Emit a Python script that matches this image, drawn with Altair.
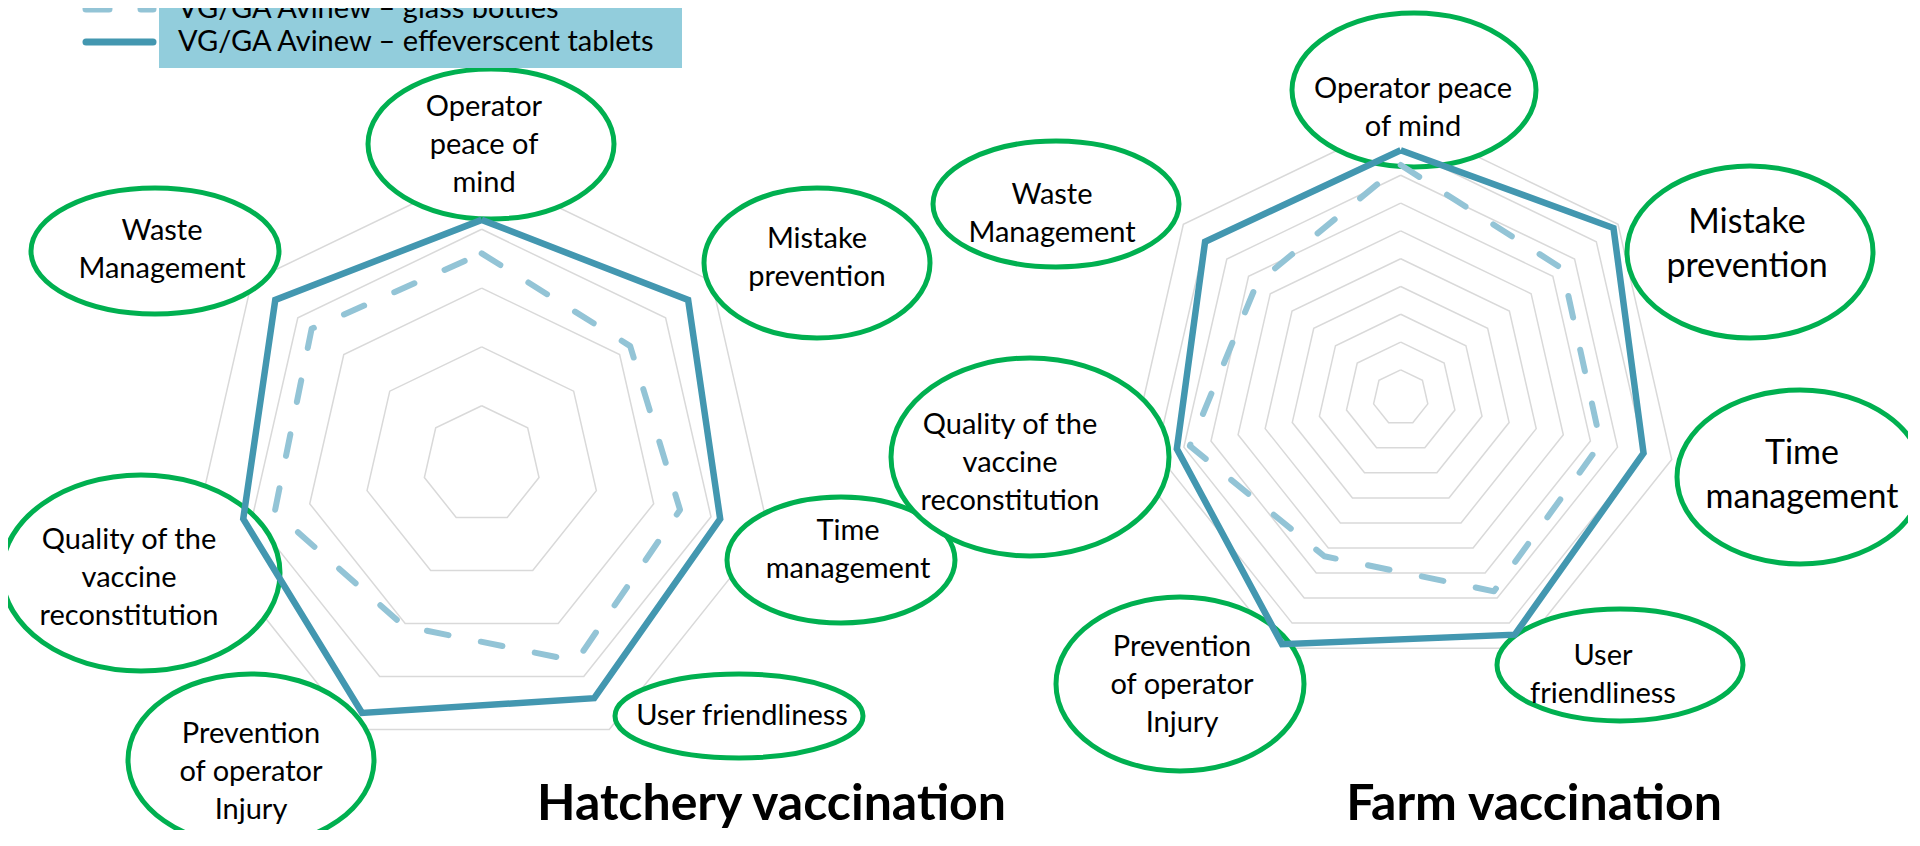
import altair as alt
import pandas as pd

# ---------------- data ----------------
categories = ["Operator peace of mind", "Mistake prevention", "Time management",
              "User friendliness", "Prevention of operator Injury",
              "Quality of the vaccine reconstitution", "Waste Management"]
series_names = ["VG/GA Avinew – glass bottles", "VG/GA Avinew – effeverscent tablets"]

hatchery_bottles = [3.59, 3.23, 3.46, 3.71, 3.05, 3.61, 3.70]
hatchery_tablets = [4.16, 4.49, 4.16, 4.41, 4.69, 4.16, 4.49]
farm_bottles = [8.37, 7.44, 7.38, 7.73, 6.33, 7.78, 6.61]
farm_tablets = [8.90, 9.79, 8.96, 9.46, 9.84, 8.26, 9.00]

hatchery_rings = [1, 2, 3, 4, 5]
farm_rings = [1, 2, 3, 4, 5, 6, 7, 8, 9, 10]

chart_titles = ["Hatchery vaccination", "Farm vaccination"]
hatchery_labels = ["Operator\npeace of\nmind", "Mistake\nprevention", "Time\nmanagement",
                   "User friendliness", "Prevention\nof operator\nInjury",
                   "Quality of the\nvaccine\nreconstitution", "Waste\nManagement"]
farm_labels = ["Operator peace\nof mind", "Mistake\nprevention", "Time\nmanagement",
               "User\nfriendliness", "Prevention\nof operator\nInjury",
               "Quality of the\nvaccine\nreconstitution", "Waste\nManagement"]

# ---------------- layout / style ----------------
W, H = 1900, 822
X0, Y0 = 8, 8
xs = alt.Scale(domain=[X0, X0 + W], nice=False, zero=False)
ys = alt.Scale(domain=[Y0, Y0 + H], nice=False, zero=False, reverse=True)

GRID = "#D9D9D9"
SOLID = "#4397B0"
DASHED = "#93C4D6"
BOX = "#92CDDC"
GREEN = "#00B050"
FONT = "Lato"
LH_SMALL, LH_BIG = 38, 44

radar = {"hatchery": dict(cx=481.7, cy=464.5, unit=58.8),
         "farm": dict(cx=1400.7, cy=397.7, unit=27.8)}

# label ellipses (centre x, centre y, rx, ry) and text block centres, one per category
hatchery_ellipses = [(491, 144, 123, 75), (817, 263, 113, 75), (841, 560, 114, 63),
                     (739, 716, 124, 42), (251, 760, 123, 86), (141, 573, 139, 98),
                     (155, 251, 124, 63)]
hatchery_text_pos = [(484, 145, 29), (817, 258, 29), (848, 550, 29), (742, 716, 29),
                     (251, 772, 29), (129, 578, 29), (162, 250, 29)]
farm_ellipses = [(1414, 90, 122, 77), (1750, 252, 123, 86), (1800, 477, 123, 87),
                 (1620, 665, 123, 56), (1180, 684, 124, 87), (1030, 457, 139, 99),
                 (1056, 204, 123, 63)]
farm_text_pos = [(1413, 108, 29), (1747, 245, 34), (1802, 476, 34), (1603, 675, 29),
                 (1182, 685, 29), (1010, 463, 29), (1052, 214, 29)]


def xenc(f):
    return alt.X(f, type="quantitative", scale=xs, axis=None)


def yenc(f):
    return alt.Y(f, type="quantitative", scale=ys, axis=None)


def polar(chart, key):
    c = radar[key]
    return chart.transform_calculate(
        px=f"{c['cx']} + datum.value * {c['unit']} * sin(2 * PI * datum.idx / 7)",
        py=f"{c['cy']} - datum.value * {c['unit']} * cos(2 * PI * datum.idx / 7)")


def ring_df(rings):
    rows = []
    for k in rings:
        for i in range(len(categories) + 1):
            rows.append({"ring": k, "idx": i, "value": k})
    return pd.DataFrame(rows)


def series_df(vals, name):
    rows = [{"series": name, "idx": i, "value": v, "category": categories[i]}
            for i, v in enumerate(vals)]
    rows.append({"series": name, "idx": len(vals), "value": vals[0], "category": categories[0]})
    return pd.DataFrame(rows)


def rings_layer(rings, key):
    return polar(alt.Chart(ring_df(rings)).mark_line(color=GRID, strokeWidth=1.5), key).encode(
        x=xenc("px"), y=yenc("py"), detail="ring:N", order="idx:Q")


def series_layer(vals, name, key, dashed):
    if dashed:
        mk = alt.Chart(series_df(vals, name)).mark_line(
            color=DASHED, strokeWidth=6, strokeDash=[22, 33], strokeCap="round", strokeJoin="round")
    else:
        mk = alt.Chart(series_df(vals, name)).mark_line(
            color=SOLID, strokeWidth=6.5, strokeJoin="miter")
    return polar(mk, key).encode(x=xenc("px"), y=yenc("py"), order="idx:Q",
                                 tooltip=["category:N", "value:Q"])


# ellipse table
ell_rows = []
for e in hatchery_ellipses + farm_ellipses:
    cx, cy, rx, ry = e
    a = ry / rx
    ell_rows.append({"ex": cx, "ey": cy,
                     "path": f"M -1 0 A 1 {a:.4f} 0 1 1 1 0 A 1 {a:.4f} 0 1 1 -1 0 Z",
                     "size": (2 * rx) ** 2})
ell_df = pd.DataFrame(ell_rows)

ellipses = alt.Chart(ell_df).mark_point(
    filled=True, fill="white", fillOpacity=1, stroke=GREEN, strokeWidth=5, opacity=1
).encode(x=xenc("ex"), y=yenc("ey"),
         shape=alt.Shape("path:N", scale=None),
         size=alt.Size("size:Q", scale=None))

# label table: first-line anchor so that the text block is centred on its position
lab_rows = []
for labels, pos in ((hatchery_labels, hatchery_text_pos), (farm_labels, farm_text_pos)):
    for t, (lx, ly, fs) in zip(labels, pos):
        n = t.count("\n") + 1
        lh = LH_BIG if fs >= 32 else LH_SMALL
        lab_rows.append({"label": t, "lx": lx, "ly": ly - (n - 1) * lh / 2, "fs": fs})
lab_df = pd.DataFrame(lab_rows)

labels_small = alt.Chart(lab_df).transform_filter("datum.fs < 32").mark_text(
    font=FONT, fontSize=29, lineHeight=LH_SMALL, lineBreak="\n", color="black",
    align="center", baseline="middle").encode(x=xenc("lx"), y=yenc("ly"), text="label:N")
labels_big = alt.Chart(lab_df).transform_filter("datum.fs >= 32").mark_text(
    font=FONT, fontSize=34, lineHeight=LH_BIG, lineBreak="\n", color="black",
    align="center", baseline="middle").encode(x=xenc("lx"), y=yenc("ly"), text="label:N")

title_df = pd.DataFrame({"title": chart_titles, "tx": [771.5, 1534], "ty": [820, 820]})
titles = alt.Chart(title_df).mark_text(
    font=FONT, fontSize=50, fontWeight="bold", color="black", align="center",
    baseline="alphabetic"
).encode(x=xenc("tx"), y=yenc("ty"), text="title:N")

# legend (manual)
box_df = pd.DataFrame({"x1": [159], "x2": [682], "y1": [0], "y2": [68]})
legend_box = alt.Chart(box_df).mark_rect(color=BOX).encode(
    x=xenc("x1"), x2="x2:Q", y=yenc("y1"), y2="y2:Q")
leg_df = pd.DataFrame({"series": series_names, "lx1": [86, 86], "lx2": [153, 153],
                       "ly": [9, 42], "tx": [178, 178]})
leg_dash = alt.Chart(leg_df.iloc[[0]]).mark_rule(
    color=DASHED, strokeWidth=7, strokeDash=[23, 32], strokeCap="round").encode(
    x=xenc("lx1"), x2="lx2:Q", y=yenc("ly"))
leg_solid = alt.Chart(leg_df.iloc[[1]]).mark_rule(
    color=SOLID, strokeWidth=7, strokeCap="round").encode(
    x=xenc("lx1"), x2="lx2:Q", y=yenc("ly"))
leg_text = alt.Chart(leg_df).mark_text(
    font=FONT, fontSize=29, color="black", align="left", baseline="middle").encode(
    x=xenc("tx"), y=yenc("ly"), text="series:N")

chart = alt.layer(
    rings_layer(hatchery_rings, "hatchery"),
    rings_layer(farm_rings, "farm"),
    ellipses,
    series_layer(hatchery_bottles, series_names[0], "hatchery", True),
    series_layer(hatchery_tablets, series_names[1], "hatchery", False),
    series_layer(farm_bottles, series_names[0], "farm", True),
    series_layer(farm_tablets, series_names[1], "farm", False),
    labels_small, labels_big, titles,
    legend_box, leg_dash, leg_solid, leg_text,
).properties(width=W, height=H, padding=0, autosize="none", background="white"
).configure_view(stroke=None)

chart.save("out.html", embed_options={"renderer": "svg", "actions": False})
